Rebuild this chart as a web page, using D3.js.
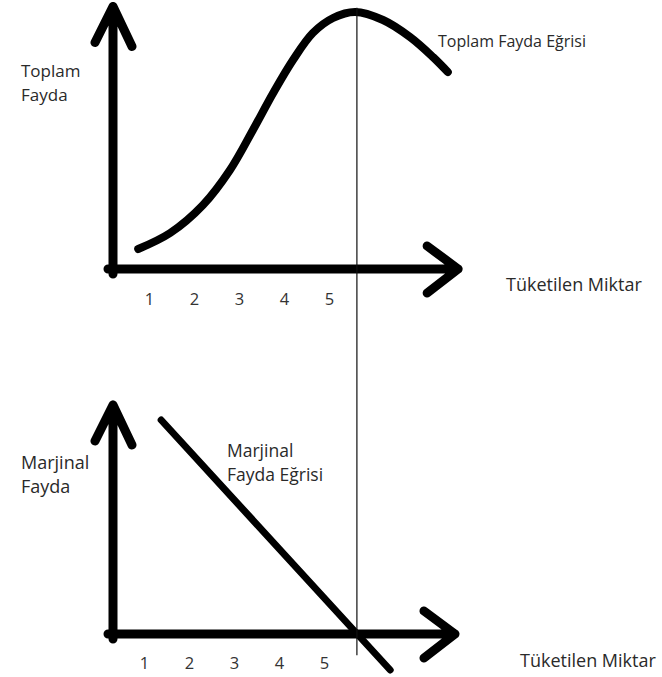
<!DOCTYPE html>
<html>
<head>
<meta charset="utf-8">
<script src="https://cdn.jsdelivr.net/npm/d3@7"></script>
<style>
  body { margin: 0; background: #fff; }
  .chart text { font-family: "Open Sans", sans-serif; font-size: 15.5px; fill: #2a2a2a; }
  .chart__axis-line { fill: none; stroke: #000; stroke-width: 9; stroke-linecap: round; stroke-linejoin: round; }
  .chart__curve { fill: none; stroke: #000; stroke-width: 8; stroke-linecap: round; }
  .chart__guide { stroke: #111; stroke-width: 1.2; }
</style>
</head>
<body>
<svg class="chart"></svg>
<script>
// Quantity consumed vs total utility (hand-drawn S curve)
const tuQuantity = [0.56, 1.27, 2.0, 2.6, 3.11, 3.56, 4.0, 4.44, 4.89, 5.38, 6.0, 6.6, 7.11, 7.44];
const tuValues = [0.8, 1.44, 2.56, 3.96, 5.56, 7.04, 8.36, 9.44, 10.04, 10.28, 9.96, 9.28, 8.48, 7.88];

// Marginal utility straight line (end points)
const muQuantity = [1.07, 6.16];
const muValues = [8.56, -1.44];

// Quantity where TU peaks and MU is zero
const optimumQuantity = 5.42;

const tickValues = [1, 2, 3, 4, 5];
const tickLabels = ["1", "2", "3", "4", "5"];

const width = 662, height = 677;

// Scales
const scaleX = d3.scaleLinear().domain([0, 8]).range([113, 473]);
const scaleYTop = d3.scaleLinear().domain([0, 10.5]).range([269, 6.5]);
const scaleYBottom = d3.scaleLinear().domain([0, 9.16]).range([634, 405]);

const svg = d3.select(".chart").attr("width", width).attr("height", height);

// Draws the two arrow axes of one panel
function drawAxes(scaleY, xEnd, tipY) {
    const x0 = scaleX(0), y0 = scaleY(0);
    const yTip = scaleY(tipY), xTip = scaleX(xEnd);
    svg.append("path").attr("class", "chart__axis-line")
        .attr("d", `M${x0},${y0 + 5}V${yTip}M${x0 - 18},${yTip + 36}L${x0},${yTip}L${x0 + 19},${yTip + 40}`);
    svg.append("path").attr("class", "chart__axis-line")
        .attr("d", `M${x0 - 5},${y0}H${xTip}M${xTip - 31},${y0 - 23}L${xTip},${y0}L${xTip - 31},${y0 + 24}`);
}

// Tick labels on the quantity axis
function drawTicks(scaleY, dx, dy) {
    const axis = svg.append("g")
        .attr("transform", `translate(${dx},${scaleY(0) + dy})`)
        .call(d3.axisBottom(scaleX).tickValues(tickValues).tickFormat((d, i) => tickLabels[i]).tickSize(0));
    axis.select(".domain").remove();
    axis.selectAll("text").attr("dy", null).attr("y", 0)
        .style("font-size", "16.5px").style("fill", "#333").style("font-family", "'Open Sans', sans-serif");
}

// Top panel
drawAxes(scaleYTop, 7.67, 10.5);
drawTicks(scaleYTop, -9, 36);

const line = d3.line().curve(d3.curveCatmullRom);
svg.append("path").attr("class", "chart__curve")
    .attr("d", line(tuQuantity.map((q, i) => [scaleX(q), scaleYTop(tuValues[i])])));

// Bottom panel
drawAxes(scaleYBottom, 7.6, 9.16);
drawTicks(scaleYBottom, -14, 35);

svg.append("path").attr("class", "chart__curve").style("stroke-width", 7)
    .attr("d", d3.line()(muQuantity.map((q, i) => [scaleX(q), scaleYBottom(muValues[i])])));

// Guide line through the TU maximum / MU zero
svg.append("line").attr("class", "chart__guide")
    .attr("x1", scaleX(optimumQuantity)).attr("x2", scaleX(optimumQuantity))
    .attr("y1", scaleYTop(10.45)).attr("y2", scaleYBottom(-0.85));

// Labels
const labels = [
    { x: 21, y: 77, size: 17, lines: ["Toplam", "Fayda"] },
    { x: 438, y: 47, size: 16, lines: ["Toplam Fayda Eğrisi"] },
    { x: 506, y: 291, size: 18, lines: ["Tüketilen Miktar"] },
    { x: 21, y: 469, size: 18, lines: ["Marjinal", "Fayda"] },
    { x: 227, y: 457, size: 17.5, lines: ["Marjinal", "Fayda Eğrisi"] },
    { x: 520, y: 667, size: 18, lines: ["Tüketilen Miktar"] }
];
labels.forEach(l => {
    const t = svg.append("text").attr("x", l.x).attr("y", l.y).style("font-size", l.size + "px");
    l.lines.forEach((s, i) => t.append("tspan").attr("x", l.x).attr("dy", i ? 24 : 0).text(s));
});
</script>
</body>
</html>
